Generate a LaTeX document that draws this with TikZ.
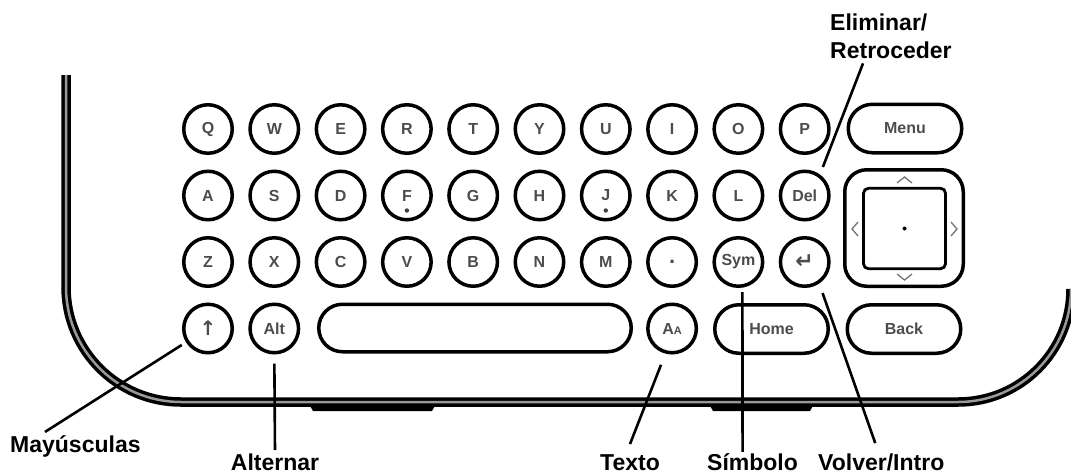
\documentclass[tikz,border=0pt]{standalone}
\usepackage{fontspec}
\setmainfont{Liberation Sans}
\newfontfamily\arrowfont{DejaVu Sans}
\usetikzlibrary{shapes.misc}

\tikzset{
  key/.style={circle, draw, line width=3.5pt, minimum size=48.5pt, inner sep=0pt,
    text=black!70, font=\fontsize{16}{16}\selectfont\bfseries},
  widekey/.style={rounded rectangle, draw, line width=3.5pt, minimum width=113.5pt,
    minimum height=48.5pt, inner sep=0pt, text=black!70, font=\fontsize{16}{16}\selectfont\bfseries},
  lbl/.style={inner sep=0pt, font=\fontsize{23}{28}\selectfont\bfseries},
  leader/.style={line width=2.6pt},
  chevron/.style={line width=1.3pt, black!55},
}

\begin{document}
\begin{tikzpicture}[x=1pt, y=-1pt]
\useasboundingbox (0,0) rectangle (1071,475);

% contour de l'appareil
\begin{scope}
  \clip (0,0) rectangle (1071,475);
  \draw[line width=3.5pt, double=black!40, double distance=2.5pt]
    (66,75) -- (66,287) arc[start angle=180, end angle=90, radius=115]
    -- (958,402) arc[start angle=90, end angle=0, radius=113];
  \fill (309,404) -- (436,404) -- (432,411) -- (313,411) -- cycle;
  \fill (709,404) -- (814,404) -- (810,411) -- (713,411) -- cycle;
\end{scope}

% touches
\foreach \k [count=\i from 0] in {Q,W,E,R,T,Y,U,I,O,P}
  \node[key] (k\k) at (208+66.3*\i,129) {\k};
\foreach \k [count=\i from 0] in {A,S,D,F,G,H,J,K,L}
  \node[key] (k\k) at (208+66.3*\i,195.5) {\k};
\node[key] (kdel) at (804.7,195.5) {Del};
\foreach \k [count=\i from 0] in {Z,X,C,V,B,N,M}
  \node[key] (k\k) at (208+66.3*\i,262) {\k};
\node[key, font=\fontsize{22}{22}\selectfont\bfseries] (kdot) at (672.1,262) {.};
\node[key] (ksym) at (738.4,262) {Sym};
\node[key, font=\fontsize{22}{22}\selectfont\arrowfont\bfseries] (kenter) at (804.7,262) {↵};
\fill[black!75] ([yshift=-15pt]kF.center) circle (2.2pt);
\fill[black!75] ([yshift=-15pt]kJ.center) circle (2.2pt);

\node[key, font=\fontsize{20}{20}\selectfont\arrowfont\bfseries] (kshift) at (208,328.5) {↑};
\node[key] (kalt) at (274.3,328.5) {Alt};
\node[widekey, minimum width=312.5pt, minimum height=47.5pt] (space) at (475,328) {};
\node[key] (kaa) at (672.1,328.5) {A{\fontsize{11}{11}\selectfont A}};
\node[widekey] (home) at (771.5,329) {Home};
\node[widekey] (back) at (904,329) {Back};
\node[widekey] (menu) at (905,128.5) {Menu};

% pave directionnel
\node[draw, line width=3.5pt, rounded corners=22pt, minimum width=118.5pt,
  minimum height=116.5pt] (dpad) at (904,228) {};
\node[draw, line width=2.8pt, rounded corners=5pt, minimum width=82pt,
  minimum height=80.5pt] (pad) at (904.5,228.5) {};
\fill (pad.center) circle (2pt);
\draw[chevron] (897,183) -- (904.5,177) -- (912,183);
\draw[chevron] (897,274) -- (904.5,280) -- (912,274);
\draw[chevron] (858,222) -- (852,229) -- (858,236);
\draw[chevron] (951,222) -- (957,229) -- (951,236);

% legendes
\node[lbl, anchor=base west] (mayus) at (10,452) {Mayúsculas};
\node[lbl, anchor=base] (alternar) at (275,470) {Alternar};
\node[lbl, anchor=base west] (texto) at (600,470) {Texto};
\node[lbl, anchor=base west] (simbolo) at (707,470) {Símbolo};
\node[lbl, anchor=base west] (volver) at (818,470) {Volver/Intro};
\node[lbl, anchor=base west, align=left] (elim) at (830,58) {Eliminar/\\Retroceder};

\draw[leader, shorten >=5pt] ([xshift=35pt,yshift=3pt]mayus.north west) -- (kshift.212);
\draw[leader, shorten >=9pt] ([yshift=3pt]alternar.north) -- (kalt.south);
\draw[leader, shorten >=12pt] ([yshift=10pt]texto.north) -- (kaa.255);
\draw[leader, shorten >=4pt] ([xshift=-10pt,yshift=1pt]simbolo.north) -- ([xshift=4pt]ksym.south);
\draw[leader, shorten >=10pt] ([xshift=-6pt,yshift=10pt]volver.north) -- (kenter.304);
\draw[leader, shorten >=8pt] ([xshift=33pt,yshift=-5pt]elim.south west) -- (kdel.54);
\end{tikzpicture}
\end{document}
